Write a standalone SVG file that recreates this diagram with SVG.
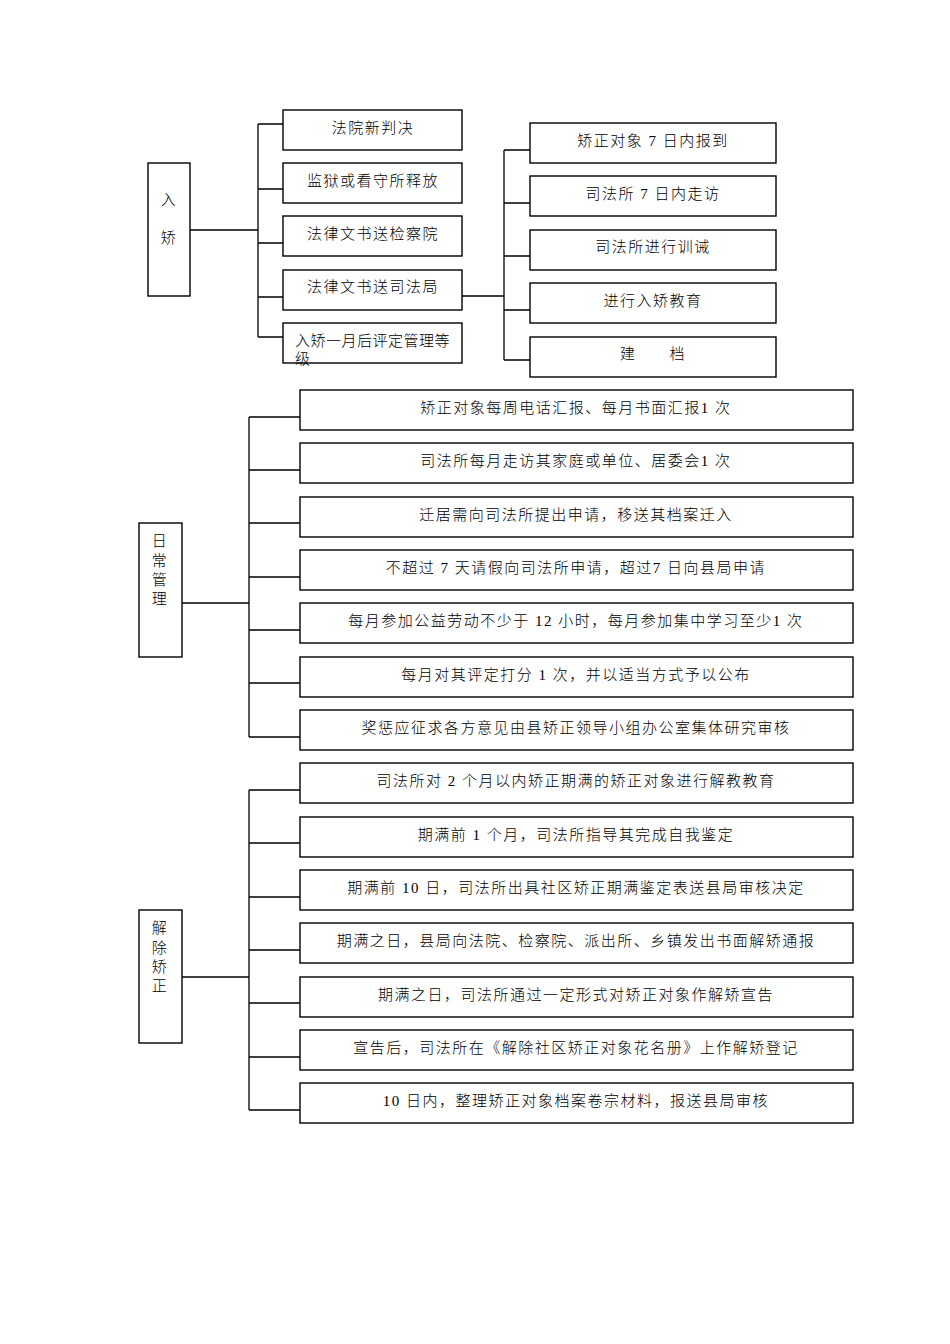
<svg xmlns="http://www.w3.org/2000/svg" width="950" height="1344" viewBox="0 0 950 1344">
<style>
.b{fill:#fff;stroke:#000;stroke-width:1.4}
.c{fill:none;stroke:#000;stroke-width:1.3}
text{font-family:"Liberation Serif","Noto Sans CJK SC",serif;font-size:15px;font-weight:300;fill:#000;text-anchor:middle;letter-spacing:1.5px}
.l{text-anchor:start;letter-spacing:0.5px}
</style>
<rect width="950" height="1344" fill="#fff"/>
<g id="connectors">
<path class="c" d="M190 230H258M258 124V337M258 124H283M258 189H283M258 243H283M258 297H283M258 337H283"/>
<path class="c" d="M462 296H504M504 150V360M504 150H530M504 203H530M504 256H530M504 310H530M504 360H530"/>
<path class="c" d="M182 603H249M249 417V737M249 417H300M249 470H300M249 523H300M249 577H300M249 630H300M249 683H300M249 737H300"/>
<path class="c" d="M182 977H249M249 790V1110M249 790H300M249 843H300M249 897H300M249 950H300M249 1003H300M249 1057H300M249 1110H300"/>
</g>
<g id="n-ruqiao"><rect class="b" x="148" y="163" width="42" height="133"/><text x="169" y="205">入</text><text x="169" y="243">矫</text></g>
<g id="n-a1"><rect class="b" x="283" y="110" width="179" height="40"/><text x="373" y="133">法院新判决</text></g>
<g id="n-a2"><rect class="b" x="283" y="163" width="179" height="40"/><text x="373" y="186">监狱或看守所释放</text></g>
<g id="n-a3"><rect class="b" x="283" y="216" width="179" height="40"/><text x="373" y="239">法律文书送检察院</text></g>
<g id="n-a4"><rect class="b" x="283" y="270" width="179" height="40"/><text x="373" y="292">法律文书送司法局</text></g>
<g id="n-a5"><rect class="b" x="283" y="323" width="179" height="40"/><text class="l" x="295" y="346">入矫一月后评定管理等</text><text class="l" x="295" y="364">级</text></g>
<g id="n-b1"><rect class="b" x="530" y="123" width="246" height="40"/><text x="653" y="146">矫正对象 7 日内报到</text></g>
<g id="n-b2"><rect class="b" x="530" y="176" width="246" height="40"/><text x="653" y="199">司法所 7 日内走访</text></g>
<g id="n-b3"><rect class="b" x="530" y="230" width="246" height="40"/><text x="653" y="252">司法所进行训诫</text></g>
<g id="n-b4"><rect class="b" x="530" y="283" width="246" height="40"/><text x="653" y="306">进行入矫教育</text></g>
<g id="n-b5"><rect class="b" x="530" y="337" width="246" height="40"/><text x="653" y="359" xml:space="preserve">建　　档</text></g>
<g id="n-richang"><rect class="b" x="139" y="523" width="43" height="134"/><text x="160" y="546">日</text><text x="160" y="566">常</text><text x="160" y="585">管</text><text x="160" y="604">理</text></g>
<g id="n-c1"><rect class="b" x="300" y="390" width="553" height="40"/><text x="576" y="413">矫正对象每周电话汇报、每月书面汇报1 次</text></g>
<g id="n-c2"><rect class="b" x="300" y="443" width="553" height="40"/><text x="576" y="466">司法所每月走访其家庭或单位、居委会1 次</text></g>
<g id="n-c3"><rect class="b" x="300" y="497" width="553" height="40"/><text x="576" y="520">迁居需向司法所提出申请，移送其档案迁入</text></g>
<g id="n-c4"><rect class="b" x="300" y="550" width="553" height="40"/><text x="576" y="573">不超过 7 天请假向司法所申请，超过7 日向县局申请</text></g>
<g id="n-c5"><rect class="b" x="300" y="603" width="553" height="40"/><text x="576" y="626">每月参加公益劳动不少于 12 小时，每月参加集中学习至少1 次</text></g>
<g id="n-c6"><rect class="b" x="300" y="657" width="553" height="40"/><text x="576" y="680">每月对其评定打分 1 次，并以适当方式予以公布</text></g>
<g id="n-c7"><rect class="b" x="300" y="710" width="553" height="40"/><text x="576" y="733">奖惩应征求各方意见由县矫正领导小组办公室集体研究审核</text></g>
<g id="n-jiechu"><rect class="b" x="139" y="910" width="43" height="133"/><text x="160" y="933">解</text><text x="160" y="953">除</text><text x="160" y="972">矫</text><text x="160" y="991">正</text></g>
<g id="n-d1"><rect class="b" x="300" y="763" width="553" height="40"/><text x="576" y="786">司法所对 2 个月以内矫正期满的矫正对象进行解教教育</text></g>
<g id="n-d2"><rect class="b" x="300" y="817" width="553" height="40"/><text x="576" y="840">期满前 1 个月，司法所指导其完成自我鉴定</text></g>
<g id="n-d3"><rect class="b" x="300" y="870" width="553" height="40"/><text x="576" y="893">期满前 10 日，司法所出具社区矫正期满鉴定表送县局审核决定</text></g>
<g id="n-d4"><rect class="b" x="300" y="923" width="553" height="40"/><text x="576" y="946">期满之日，县局向法院、检察院、派出所、乡镇发出书面解矫通报</text></g>
<g id="n-d5"><rect class="b" x="300" y="977" width="553" height="40"/><text x="576" y="1000">期满之日，司法所通过一定形式对矫正对象作解矫宣告</text></g>
<g id="n-d6"><rect class="b" x="300" y="1030" width="553" height="40"/><text x="576" y="1053">宣告后，司法所在《解除社区矫正对象花名册》上作解矫登记</text></g>
<g id="n-d7"><rect class="b" x="300" y="1083" width="553" height="40"/><text x="576" y="1106">10 日内，整理矫正对象档案卷宗材料，报送县局审核</text></g>
</svg>
